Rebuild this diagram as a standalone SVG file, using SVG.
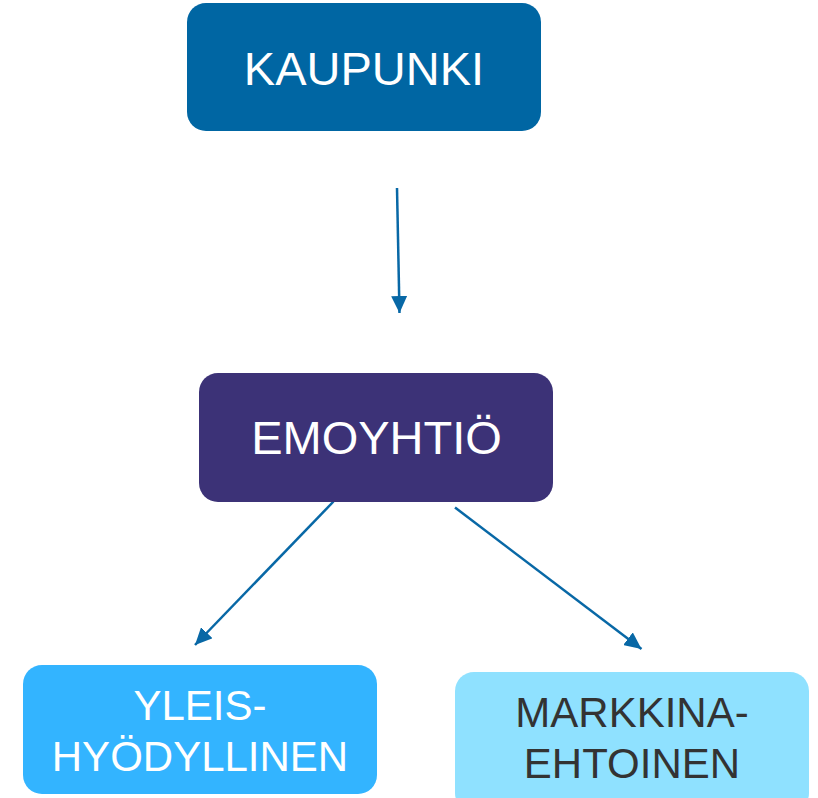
<svg xmlns="http://www.w3.org/2000/svg" width="818" height="798" viewBox="0 0 818 798">
  <style>
    .lbl { font-family: "Liberation Sans", Arial, sans-serif; text-anchor: middle; }
    .w { fill: #ffffff; }
    .d { fill: #333333; }
    .conn { stroke: #0868a6; stroke-width: 2.5; fill: none; marker-end: url(#arr); }
  </style>
  <defs>
    <marker id="arr" markerUnits="userSpaceOnUse" markerWidth="18" markerHeight="16" viewBox="0 0 18 16" refX="17" refY="8" orient="auto">
      <path d="M0,0 L17,8 L0,16 Z" fill="#0868a6"/>
    </marker>
  </defs>
  <rect width="818" height="798" fill="#ffffff"/>
  <g id="connectors">
    <line class="conn" x1="397" y1="188" x2="399.5" y2="313"/>
    <line class="conn" x1="333.5" y1="501.5" x2="195" y2="645"/>
    <line class="conn" x1="455" y1="507.5" x2="641.5" y2="649"/>
  </g>
  <g id="kaupunki">
    <rect x="187" y="3" width="354" height="128" rx="19" fill="#0066a3"/>
    <text class="lbl w" x="364" y="85" font-size="47">KAUPUNKI</text>
  </g>
  <g id="emoyhtio">
    <rect x="199" y="373" width="354" height="129" rx="19" fill="#3c3277"/>
    <text class="lbl w" x="376.5" y="454" font-size="47">EMOYHTIÖ</text>
  </g>
  <g id="yleishyodyllinen">
    <rect x="23" y="665" width="354" height="129" rx="19" fill="#33b4ff"/>
    <text class="lbl w" x="200" y="720" font-size="42">YLEIS-</text>
    <text class="lbl w" x="200" y="771" font-size="42">HYÖDYLLINEN</text>
  </g>
  <g id="markkinaehtoinen">
    <rect x="455" y="672" width="354" height="140" rx="19" fill="#8fe1ff"/>
    <text class="lbl d" x="632" y="727" font-size="42">MARKKINA-</text>
    <text class="lbl d" x="632" y="778" font-size="42">EHTOINEN</text>
  </g>
</svg>
